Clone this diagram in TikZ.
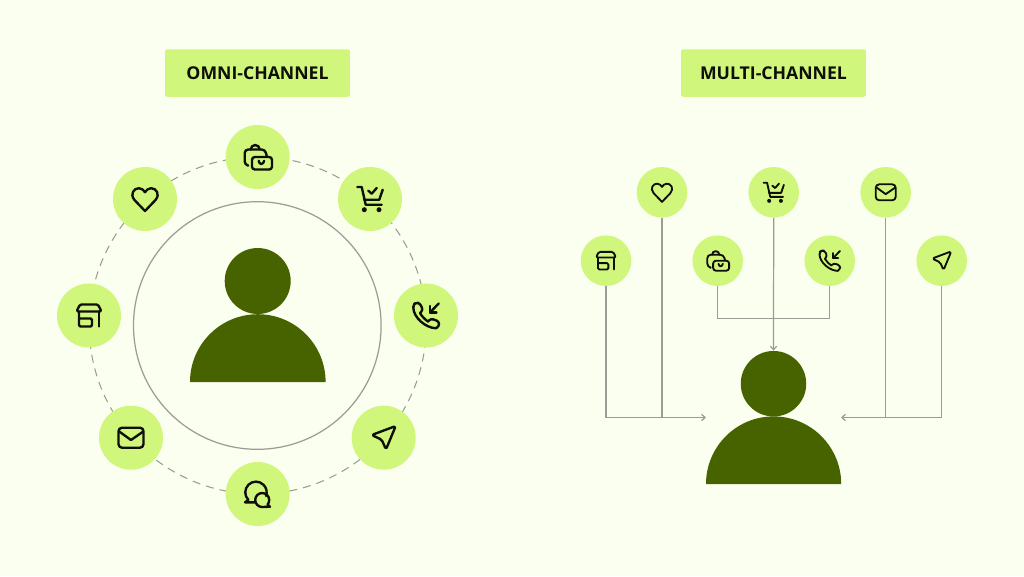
\documentclass[tikz,border=0pt]{standalone}
\usepackage{fontspec}
\setmainfont{Open Sans}
\usetikzlibrary{arrows.meta}
\definecolor{bgc}{HTML}{FBFFEF}
\definecolor{lime}{HTML}{D0F67C}
\definecolor{olive}{HTML}{466300}
\definecolor{inkc}{HTML}{0D0F08}
\definecolor{wire}{HTML}{9A9D95}
\tikzset{
  x=0.02cm,y=-0.02cm,
  hubL/.style={circle,fill=lime,inner sep=0pt,minimum size=1.28cm},
  hubR/.style={circle,fill=lime,inner sep=0pt,minimum size=1.012cm},
  headL/.style={circle,fill=olive,inner sep=0pt,minimum size=1.32cm},
  headR/.style={circle,fill=olive,inner sep=0pt,minimum size=1.31cm},
  titlebox/.style={fill=lime,rounded corners=1.2pt,inner sep=0pt,minimum width=3.7cm,minimum height=0.95cm,text=inkc,font=\bfseries\fontsize{10.05pt}{11pt}\selectfont},
  wireline/.style={draw=wire,line width=0.7pt},
  arrowline/.style={wireline,-{Straight Barb[length=2pt,width=3.6pt]}},
  dashring/.style={draw=wire,line width=0.6pt,dash pattern=on 4.6pt off 3.4pt},
  iconL/.style={draw=inkc,line width=1.35pt,line cap=round,line join=round},
  iconR/.style={draw=inkc,line width=1.05pt,line cap=round,line join=round},
  store/.pic={
    \draw[rounded corners=0.8pt] (-12.5,-4) -- (-9,-11) -- (9,-11) -- (12.5,-4) -- cycle;
    \draw[rounded corners=0.8pt] (-10,-4) -- (-10,11) -- (3,11) -- (3,3) -- (-10,3);
    \draw (10,-4) -- (10,11);
  },
  heart/.pic={
    \draw (0,12) -- (-10.5,1) .. controls (-15.5,-5) and (-11,-11) .. (-6,-10.8) .. controls (-3.2,-10.7) and (-1.2,-8.8) .. (0,-6.8) .. controls (1.2,-8.8) and (3.2,-10.7) .. (6,-10.8) .. controls (11,-11) and (15.5,-5) .. (10.5,1) -- cycle;
  },
  bag/.pic={
    \draw (-7,-7.5) arc[start angle=180,end angle=360,radius=4.5];
    \draw[rounded corners=2pt] (-10,8.5) -- (-13,8) -- (-13,-7.5) -- (7.5,-7.5) -- (9,-1);
    \draw[rounded corners=1.6pt] (-5.7,0) rectangle (14.3,12.5);
    \draw (1,3.8) .. controls (1.5,8) and (5.5,8) .. (6.5,3.8);
  },
  cart/.pic={
    \draw (-12.7,-12) -- (-8.3,-12) -- (-4.3,5.7) -- (11.7,5.7);
    \draw (12.7,-9.3) -- (9.3,0.7) -- (-6,0.7);
    \draw (-1.7,-8.3) -- (1.7,-5.3) -- (6.7,-11);
    \fill[inkc] (-5.7,10.7) circle[radius=2.5] (9,10.7) circle[radius=2.5];
  },
  phone/.pic={
    \draw[rounded corners=1.4pt] (-12.7,-8) -- (-12.5,-11) -- (-10,-12.7) -- (-6.3,-12.5) -- (-3,-5.5) -- (-6,-2.5);
    \draw (-6,-2.5) .. controls (-4,1) and (-1,4) .. (2,6);
    \draw[rounded corners=1.4pt] (2,6) -- (5,3) -- (13,6) -- (13,11) -- (10,12.7);
    \draw (10,12.7) .. controls (0,12.7) and (-12.7,2) .. (-12.7,-8);
    \draw (12.7,-12) -- (4,-3);
    \draw (4,-9.5) -- (4,-3) -- (10.5,-3);
  },
  mail/.pic={
    \draw[rounded corners=2pt] (-12.5,-10) rectangle (12.5,10);
    \draw (-11.5,-6) -- (0,2.3) -- (12,-6);
  },
  send/.pic={
    \draw[rounded corners=1pt] (12,-11.7) -- (-12,-2.7) -- (-2,2) -- (2.3,11.7) -- cycle;
  },
  chat/.pic={
    \draw (-3,8.3) -- (-12.7,8.3) -- (-9.3,5.9) arc[start angle=135,end angle=380,radius=10.7];
    \draw (12.3,12.7) -- (4.5,13) arc[start angle=90,end angle=400,radius=7] -- cycle;
  },
}
\begin{document}
\begin{tikzpicture}
\fill[bgc] (0,0) rectangle (1024,576);
\useasboundingbox (0,0) rectangle (1024,576);
% titles
\node[titlebox] (tomni) at (257.5,73) {OMNI-CHANNEL};
\node[titlebox] (tmulti) at (773.5,73) {MULTI-CHANNEL};
% omni-channel rings
\draw[dashring] (257.7,325.5) circle[radius=168.5];
\draw[wireline] (257.3,325.5) circle[radius=123.8];
% omni-channel hubs
\node[hubL] (obag) at (257.7,157) {};
\node[hubL] (oheart) at (145,199) {};
\node[hubL] (ocart) at (370,199) {};
\node[hubL] (ostore) at (89,315.5) {};
\node[hubL] (ophone) at (426,315.5) {};
\node[hubL] (omail) at (131,437.7) {};
\node[hubL] (osend) at (383.7,437.7) {};
\node[hubL] (ochat) at (257.7,494) {};
\pic[iconL] at (obag) {bag};
\pic[iconL] at (oheart) {heart};
\pic[iconL] at (ocart) {cart};
\pic[iconL] at (ostore) {store};
\pic[iconL] at (ophone) {phone};
\pic[iconL] at (omail) {mail};
\pic[iconL] at (osend) {send};
\pic[iconL] at (ochat) {chat};
% omni-channel person
\node[headL] (ohead) at (257.7,281) {};
\fill[olive] (190,382) arc[start angle=180,end angle=360,radius=67.8] -- cycle;
% multi-channel hubs
\node[hubR] (rstore) at (606,260.7) {};
\node[hubR] (rheart) at (662,192.3) {};
\node[hubR] (rbag) at (717.7,260.7) {};
\node[hubR] (rcart) at (773.7,192.3) {};
\node[hubR] (rphone) at (829.7,260.7) {};
\node[hubR] (rmail) at (885.7,192.3) {};
\node[hubR] (rsend) at (941.7,260.7) {};
\pic[iconR,scale=0.8] at (rstore) {store};
\pic[iconR,scale=0.8] at (rheart) {heart};
\pic[iconR,scale=0.8] at (rbag) {bag};
\pic[iconR,scale=0.8] at (rcart) {cart};
\pic[iconR,scale=0.8] at (rphone) {phone};
\pic[iconR,scale=0.8] at (rmail) {mail};
\pic[iconR,scale=0.8] at (rsend) {send};
% multi-channel person
\node[headR] (rhead) at (773.5,383.7) {};
\fill[olive] (706,484) arc[start angle=180,end angle=360,radius=67.6] -- cycle;
\coordinate (rinL) at (706,417.5);
\coordinate (rinR) at (841,417.5);
\coordinate (rbus) at (773.7,318.7);
% connectors
\draw[arrowline] (rstore.south) |- (rinL);
\draw[wireline] (rheart.south) -- (rheart.south |- rinL);
\draw[arrowline] (rsend.south) |- (rinR);
\draw[wireline] (rmail.south) -- (rmail.south |- rinR);
\draw[wireline] (rbag.south) |- (rbus) -| (rphone.south);
\draw[arrowline] (rcart.south) -- (rhead.north);
\end{tikzpicture}
\end{document}
